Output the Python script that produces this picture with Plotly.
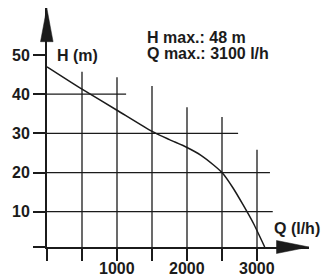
import plotly.graph_objects as go

# ---- data ----
flow_q = [0, 500, 1000, 1500, 1750, 2000, 2200, 2375, 2500, 2660, 2800, 2950, 3110]
head_h = [47.0, 41.3, 35.9, 30.5, 28.4, 26.4, 24.4, 22.0, 20.0, 16.0, 11.8, 7.0, 1.0]

y_ticks = [10, 20, 30, 40, 50]
h_grid_end = [3225, 3185, 2730, 1130, 0]          # Q where each horizontal grid line stops
x_ticks = [0, 500, 1000, 1500, 2000, 2500, 3000]
x_tick_text = ["", "", "1000", "", "2000", "", "3000"]
v_grid_top = [None, 45.7, 44.3, 42.1, 36.7, 34.2, 25.8]  # H where each vertical grid line stops

h_label = "H (m)"
q_label = "Q (l/h)"
info_lines = ["H max.: 48 m", "Q max.: 3100 l/h"]

# ---- geometry (reference pixel frame) ----
W, HGT = 324, 278
PLOT_L, PLOT_R, PLOT_T, PLOT_B = 47, 309, 8, 247
ML, MR, MT, MB = PLOT_L, W - PLOT_R, PLOT_T, HGT - PLOT_B
PW, PH = PLOT_R - PLOT_L, PLOT_B - PLOT_T
PX_PER_Q = 0.07
PX_PER_H = 3.9175
ZERO_PX = 250.9           # reference pixel row of H = 0
y_lo = (ZERO_PX - PLOT_B) / PX_PER_H
y_hi = (ZERO_PX - PLOT_T) / PX_PER_H
x_hi = PW / PX_PER_Q

INK = "#1b1b1b"
FONT = dict(family="Liberation Sans, Arial, sans-serif", size=16, color=INK, weight="bold")


def px(xp):
    return (xp - PLOT_L) / PW


def py(yp):
    return (PLOT_B - yp) / PH


fig = go.Figure()

# horizontal grid lines
gx, gy = [], []
for h, qe in zip(y_ticks, h_grid_end):
    if qe > 0:
        gx += [0, qe, None]
        gy += [h, h, None]
# vertical grid lines
for q, ht in zip(x_ticks, v_grid_top):
    if ht is not None:
        gx += [q, q, None]
        gy += [y_lo, ht, None]
fig.add_trace(go.Scatter(x=gx, y=gy, mode="lines", line=dict(color=INK, width=1.3),
                         hoverinfo="skip", showlegend=False))

# pump curve
fig.add_trace(go.Scatter(x=flow_q, y=head_h, mode="lines",
                         line=dict(color=INK, width=1.5, shape="spline", smoothing=0.6),
                         showlegend=False))

# arrow heads
fig.add_shape(type="path", xref="paper", yref="paper",
              path=f"M {px(40.5)},{py(41.7)} L {px(46.8)},{py(8)} L {px(53.1)},{py(41.7)} Z",
              fillcolor=INK, line=dict(color=INK, width=0.5))
fig.add_shape(type="path", xref="paper", yref="paper",
              path=f"M {px(276.5)},{py(240.5)} L {px(309)},{py(247)} L {px(276.5)},{py(253.5)} Z",
              fillcolor=INK, line=dict(color=INK, width=0.5))

# labels
ann = [
    dict(text=h_label, x=px(55), y=py(55), xanchor="left"),
    dict(text=q_label, x=px(272), y=py(228), xanchor="left"),
    dict(text=info_lines[0], x=px(145), y=py(37), xanchor="left"),
    dict(text=info_lines[1], x=px(145), y=py(54), xanchor="left"),
]
for a in ann:
    fig.add_annotation(xref="paper", yref="paper", yanchor="middle",
                       showarrow=False, font=FONT, **a)

# x tick labels placed on the x axis scale
for q, t in zip(x_ticks, x_tick_text):
    if t:
        fig.add_annotation(xref="x", yref="paper", x=q, y=py(268), text=t,
                           xanchor="center", yanchor="middle", showarrow=False, font=FONT)

fig.update_layout(
    width=W, height=HGT, margin=dict(l=ML, r=MR, t=MT, b=MB, pad=0, autoexpand=False),
    paper_bgcolor="white", plot_bgcolor="white",
    xaxis=dict(range=[0, x_hi], showgrid=False, zeroline=False, automargin=False,
               showline=True, linecolor=INK, linewidth=2,
               tickmode="array", tickvals=x_ticks, ticktext=[""] * len(x_ticks),
               ticks="outside", ticklen=12, tickwidth=1.5, tickcolor=INK,
               tickfont=FONT, fixedrange=True),
    yaxis=dict(range=[y_lo, y_hi], showgrid=False, zeroline=False, automargin=False,
               showline=True, linecolor=INK, linewidth=2,
               tickmode="array", tickvals=[y_lo] + y_ticks, ticktext=[""] + [str(v) for v in y_ticks],
               ticks="outside", ticklen=12, tickwidth=1.5, tickcolor=INK,
               tickfont=FONT, fixedrange=True),
)

fig.write_html("out.html", config={"displayModeBar": False},
               post_script="document.body.style.margin='0px';")
